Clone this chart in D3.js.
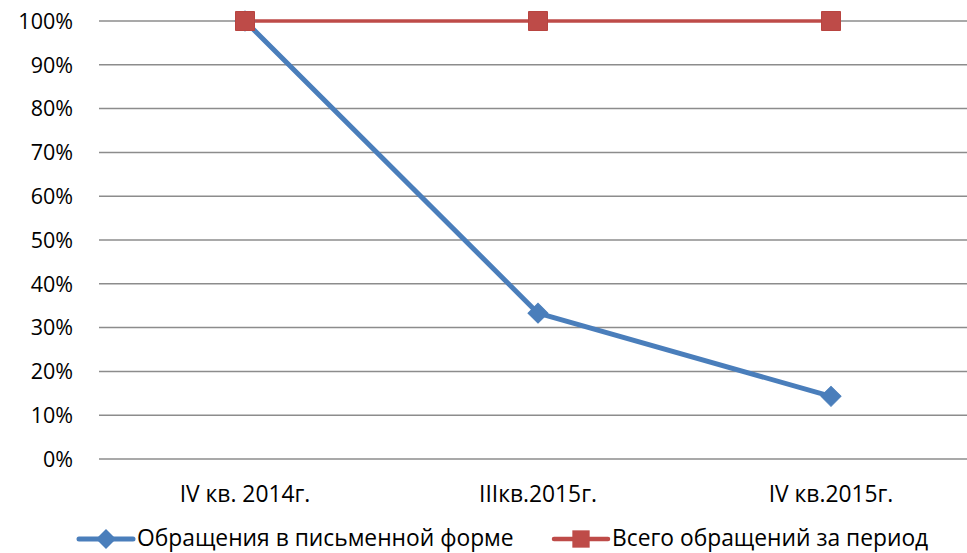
<!DOCTYPE html>
<html><head><meta charset="utf-8">
<script src="https://cdn.jsdelivr.net/npm/d3@7"></script>
<style>body{margin:0;background:#fff}svg{display:block}text{font-family:"Open Sans","Noto Sans",sans-serif;fill:#000}</style>
</head><body>
<svg id="c" width="967" height="553"></svg>
<script>
const categories = ["IV кв. 2014г.", "IIIкв.2015г.", "IV кв.2015г."];
const writtenValues = [100, 33.3, 14.3];
const totalValues = [100, 100, 100];
const seriesNames = ["Обращения в письменной форме", "Всего обращений за период"];
const yTicks = [0,10,20,30,40,50,60,70,80,90,100];

const svg = d3.select("#c");
const fs = 22.8;
const x = d3.scalePoint().domain(categories).range([245, 831]);
const y = d3.scaleLinear().domain([0,100]).range([459, 21]);

// gridlines
svg.append("g").selectAll("line").data(yTicks).join("line")
  .attr("x1", 99).attr("x2", 978)
  .attr("y1", d=>y(d)).attr("y2", d=>y(d))
  .attr("stroke", "#8c8c8c").attr("stroke-width", 1.5);

// y labels
svg.append("g").selectAll("text").data(yTicks).join("text")
  .attr("x", 73).attr("y", d=>y(d)).attr("dy", "0.36em")
  .attr("text-anchor", "end").attr("font-size", 21.5).text(d=>d+"%");

// x labels
svg.append("g").selectAll("text").data(categories).join("text")
  .attr("x", d=>x(d)).attr("y", 494).attr("dy","0.36em")
  .attr("text-anchor","middle").attr("font-size", fs).text(d=>d);

const line = d3.line().x((d,i)=>x(categories[i])).y(d=>y(d));
const blue = "#4a7ebb", red = "#be4b48";

// red series
svg.append("path").datum(totalValues).attr("d", line)
  .attr("fill","none").attr("stroke", red).attr("stroke-width", 3.5);
// blue series
svg.append("path").datum(writtenValues).attr("d", line)
  .attr("fill","none").attr("stroke", blue).attr("stroke-width", 5).attr("stroke-linejoin","round");

const sq = d3.symbol().type(d3.symbolSquare).size(361);
const di = d3.symbol().type(d3.symbolSquare).size(200);
svg.append("g").selectAll("path").data(writtenValues).join("path")
  .attr("transform",(d,i)=>`translate(${x(categories[i])},${y(d)}) rotate(45)`)
  .attr("d", di()).attr("fill", blue).attr("stroke", blue).attr("stroke-width",1);
svg.append("g").selectAll("path").data(totalValues).join("path")
  .attr("transform",(d,i)=>`translate(${x(categories[i])},${y(d)})`)
  .attr("d", sq()).attr("fill", red).attr("stroke","#b84440").attr("stroke-width",1);

// legend
const lg = [{name: seriesNames[0], color: blue, w:5, x0:79, tx:137, diamond:true},
            {name: seriesNames[1], color: red, w:4.5, x0:554, tx:612, diamond:false}];
const ly = 539;
lg.forEach(l=>{
  svg.append("line").attr("x1", l.x0).attr("x2", l.x0+54).attr("y1", ly).attr("y2", ly)
    .attr("stroke", l.color).attr("stroke-width", l.w).attr("stroke-linecap","round");
  svg.append("path").attr("transform",`translate(${l.x0+27},${ly})` + (l.diamond ? " rotate(45)" : ""))
    .attr("d", d3.symbol().type(d3.symbolSquare).size(l.diamond ? 200 : 300)())
    .attr("fill", l.color);
  svg.append("text").attr("x", l.tx).attr("y", ly).attr("dy","0.3em").attr("font-size", fs).text(l.name);
});
</script>
</body></html>
